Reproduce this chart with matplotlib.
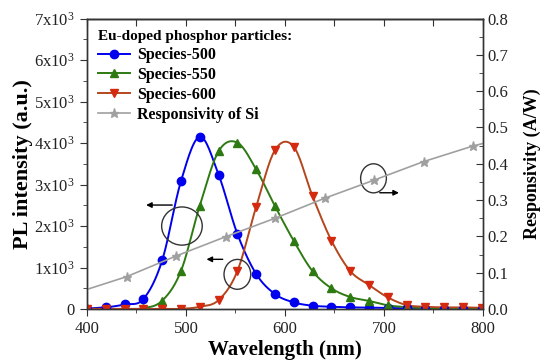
import numpy as np
import matplotlib
matplotlib.use("Agg")
import matplotlib.pyplot as plt
from matplotlib.patches import Ellipse
from matplotlib.ticker import MultipleLocator, FuncFormatter

# ---- data ----
wl = [400, 419, 438, 457, 476, 495, 514, 533, 552, 571, 590, 609,
      628, 647, 666, 685, 704, 723, 742, 761, 780, 799]
pl_500 = [10, 40, 110, 240, 1170, 3080, 4150, 3240, 1810, 845, 360, 160,
          80, 55, 40, 35, 25, 15, 10, 5, 5, 5]
pl_550 = [0, 0, 0, 20, 200, 915, 2490, 3800, 4010, 3365, 2480, 1640,
          910, 500, 290, 195, 90, 45, 20, 10, 5, 5]
pl_600 = [5, 5, 5, 5, 5, 5, 55, 215, 915, 2465, 3830, 3910,
          2715, 1650, 915, 580, 280, 95, 55, 40, 40, 30]

wl_si = [400, 440, 490, 540, 590, 640, 690, 740, 790, 800]
resp_si = [0.054, 0.089, 0.146, 0.199, 0.250, 0.305, 0.355, 0.406, 0.449, 0.456]

legend_title = "Eu-doped phosphor particles:"
labels = ["Species-500", "Species-550", "Species-600", "Responsivity of Si"]


def smooth(x, y, n=16):
    # Catmull-Rom line through the measured points (line drawing only)
    x = np.asarray(x, float)
    y = np.asarray(y, float)
    px = np.concatenate([[2 * x[0] - x[1]], x, [2 * x[-1] - x[-2]]])
    py = np.concatenate([[2 * y[0] - y[1]], y, [2 * y[-1] - y[-2]]])
    t = np.linspace(0, 1, n, endpoint=False)
    xs, ys = [], []
    for i in range(1, len(px) - 2):
        for p, out in ((px, xs), (py, ys)):
            p0, p1, p2, p3 = p[i - 1], p[i], p[i + 1], p[i + 2]
            out.extend(0.5 * (2 * p1 + (-p0 + p2) * t
                              + (2 * p0 - 5 * p1 + 4 * p2 - p3) * t ** 2
                              + (-p0 + 3 * p1 - 3 * p2 + p3) * t ** 3))
    xs.append(x[-1])
    ys.append(y[-1])
    return np.array(xs), np.array(ys)


plt.rcParams.update({
    "font.family": "Liberation Serif",
    "mathtext.fontset": "custom",
    "mathtext.rm": "Liberation Serif",
    "font.size": 11,
    "axes.linewidth": 1.0,
    "axes.edgecolor": "#333333",
})

fig = plt.figure(figsize=(5.5, 3.64), dpi=100)
ax = fig.add_axes([0.158, 0.151, 0.72, 0.798])
ax2 = ax.twinx()

series = [
    (pl_500, "#0000ee", "#0000ee", "o"),
    (pl_550, "#2e7a12", "#2e7a12", "^"),
    (pl_600, "#b4461e", "#d42a10", "v"),
]
handles = []
for vals, lc, mc, m in series:
    sx, sy = smooth(wl, vals)
    ax.plot(sx, sy, color=lc, lw=1.4, zorder=3)
    ax.plot(wl, vals, ls="none", marker=m, ms=6, color=mc, zorder=4)
    handles.append(plt.Line2D([], [], color=lc, lw=1.4, marker=m, ms=6,
                              markerfacecolor=mc, markeredgecolor=mc))

ax2.plot(wl_si, resp_si, color="#a0a0a0", lw=1.2, marker="*", ms=6.5,
         markevery=range(1, len(wl_si) - 1))
handles.append(plt.Line2D([], [], color="#a0a0a0", lw=1.2, marker="*", ms=6.5))

ax.set_xlim(400, 800)
ax.set_ylim(0, 7000)
ax2.set_ylim(0, 0.8)

ax.xaxis.set_major_locator(MultipleLocator(100))
ax.xaxis.set_minor_locator(MultipleLocator(50))
ax.yaxis.set_major_locator(MultipleLocator(1000))
ax.yaxis.set_minor_locator(MultipleLocator(500))
ax2.yaxis.set_major_locator(MultipleLocator(0.1))
ax2.yaxis.set_minor_locator(MultipleLocator(0.05))

# top axis: inward ticks every 50 nm, no labels
top = ax.secondary_xaxis("top")
top.xaxis.set_major_locator(MultipleLocator(50))
top.tick_params(direction="in", length=5, labeltop=False, colors="#333333")


def sci(v, pos):
    if v == 0:
        return "0"
    return r"$\mathregular{%dx10^{3}}$" % int(round(v / 1000))


ax.yaxis.set_major_formatter(FuncFormatter(sci))
ax2.yaxis.set_major_formatter(FuncFormatter(lambda v, p: f"{v:.1f}"))

ax.tick_params(axis="both", which="both", labelsize=12, colors="#333333",
               labelcolor="#222222", direction="out")
ax.tick_params(which="major", length=5)
ax.tick_params(which="minor", length=3)
ax2.tick_params(axis="y", which="both", direction="in", labelsize=12,
                colors="#333333", labelcolor="#222222")
ax2.tick_params(which="major", length=5)
ax2.tick_params(which="minor", length=3)

ax.set_xlabel("Wavelength (nm)", fontsize=15, fontweight="bold", labelpad=2)
ax.set_ylabel("PL intensity (a.u.)", fontsize=16, fontweight="bold", labelpad=1)
ax2.set_ylabel("Responsivity (A/W)", fontsize=13, fontweight="bold", labelpad=11)

# circles and arrows pointing to the axes
for cx, cy, w, h in [(496, 2000, 41, 920), (552, 836, 27, 720),
                     (689.5, 3150, 26, 700)]:
    ax.add_patch(Ellipse((cx, cy), w, h, fill=False, ec="#333333", lw=1.0,
                         zorder=5))
for x0, x1, y in [(489, 457, 2506), (540, 518, 1198), (693, 718, 2802)]:
    ax.annotate("", xy=(x1, y), xytext=(x0, y),
                arrowprops=dict(arrowstyle="-|>", color="black", lw=1.0,
                                mutation_scale=8), zorder=5)

leg = ax2.legend(handles, labels, loc="upper left",
                 bbox_to_anchor=(0.0, 0.998), frameon=False,
                 title=legend_title, alignment="left",
                 prop={"weight": "bold", "size": 11.5},
                 handlelength=2.0, handletextpad=0.45, labelspacing=0.24,
                 borderaxespad=0.3)
leg.get_title().set_fontweight("bold")
leg.get_title().set_fontsize(11)

fig.savefig("out.png", dpi=100)
